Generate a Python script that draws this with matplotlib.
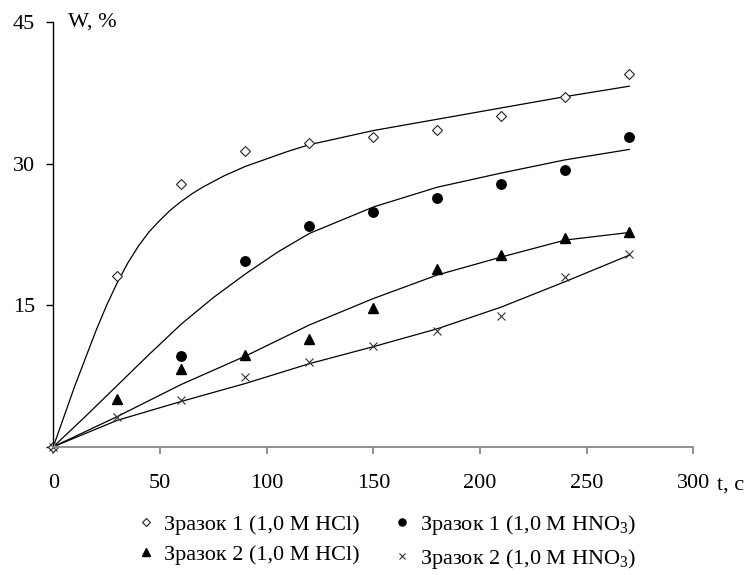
import matplotlib
matplotlib.use("Agg")
import matplotlib.pyplot as plt

plt.rcParams["font.family"] = ["Liberation Serif", "DejaVu Serif"]
plt.rcParams["mathtext.fontset"] = "custom"
plt.rcParams["mathtext.rm"] = "Liberation Serif"
plt.rcParams["mathtext.it"] = "Liberation Serif:italic"

# measured points, W (%) vs t (s)
t_s1_hcl = [0, 30, 60, 90, 120, 150, 180, 210, 240, 270]
w_s1_hcl = [0, 18.1, 27.8, 31.3, 32.2, 32.8, 33.6, 35.0, 37.1, 39.5]

t_s1_hno3 = [60, 90, 120, 150, 180, 210, 240, 270]
w_s1_hno3 = [9.6, 19.7, 23.4, 24.9, 26.4, 27.8, 29.3, 32.8]

t_s2_hcl = [30, 60, 90, 120, 150, 180, 210, 240, 270]
w_s2_hcl = [5.1, 8.2, 9.7, 11.4, 14.7, 18.8, 20.3, 22.1, 22.8]

t_s2_hno3 = [0, 30, 60, 90, 120, 150, 180, 210, 240, 270]
w_s2_hno3 = [0, 3.2, 5.0, 7.4, 9.0, 10.7, 12.3, 13.9, 18.0, 20.4]

# trend curves
t_fit1 = [0, 10, 20, 25, 30, 35, 40, 45, 50, 55, 60, 65, 70, 80, 90, 100, 110, 120,
          150, 180, 210, 240, 270]
w_fit1 = [0, 6.4, 12.3, 15.0, 17.4, 19.5, 21.3, 22.8, 24.0, 25.1, 26.0, 26.8, 27.5,
          28.7, 29.7, 30.5, 31.3, 32.0, 33.5, 34.7, 35.9, 37.1, 38.2]

t_fit2 = [0, 15, 30, 45, 60, 75, 90, 105, 120, 150, 180, 210, 240, 270]
w_fit2 = [0, 3.2, 6.5, 9.8, 13.0, 15.8, 18.3, 20.6, 22.6, 25.4, 27.5, 29.0, 30.4, 31.5]

t_fit3 = [0, 30, 60, 90, 120, 150, 180, 210, 240, 270]
w_fit3 = [0, 3.2, 6.6, 9.6, 12.9, 15.7, 18.2, 20.1, 21.9, 22.7]

t_fit4 = [0, 30, 60, 90, 120, 150, 180, 210, 240, 270]
w_fit4 = [0, 2.8, 4.8, 6.7, 8.8, 10.6, 12.5, 14.8, 17.5, 20.3]

labels = [
    "Зразок 1 (1,0 M HCl)",
    r"Зразок 1 (1,0 M HNO$_\mathrm{3}$)",
    "Зразок 2 (1,0 M HCl)",
    r"Зразок 2 (1,0 M HNO$_\mathrm{3}$)",
]

fig = plt.figure(figsize=(7.49, 5.75), dpi=100)
ax = fig.add_axes([0.0712, 0.2231, 0.8545, 0.7386])

for tt, ww in [(t_fit1, w_fit1), (t_fit2, w_fit2), (t_fit3, w_fit3), (t_fit4, w_fit4)]:
    ax.plot(tt, ww, color="black", linewidth=0.9, clip_on=False)

h1, = ax.plot(t_s1_hcl, w_s1_hcl, linestyle="none", marker="D", markersize=5.2,
              markerfacecolor="white", markeredgecolor="#222222", markeredgewidth=0.8,
              clip_on=False, label=labels[0])
h2, = ax.plot(t_s1_hno3, w_s1_hno3, linestyle="none", marker="o", markersize=6.8,
              color="black", clip_on=False, label=labels[1])
h3, = ax.plot(t_s2_hcl, w_s2_hcl, linestyle="none", marker="^", markersize=7.5,
              color="black", clip_on=False, label=labels[2])
h4, = ax.plot(t_s2_hno3, w_s2_hno3, linestyle="none", marker="x", markersize=6,
              color="#333333", markeredgewidth=0.8, clip_on=False, label=labels[3])

ax.set_xlim(0, 300)
ax.set_ylim(0, 45)
ax.set_xticks([0, 50, 100, 150, 200, 250, 300])
ax.set_yticks([0, 15, 30, 45])
ax.set_yticklabels(["", "15", "30", "45"])

for side in ["top", "right"]:
    ax.spines[side].set_visible(False)
ax.spines["left"].set_color("black")
ax.spines["left"].set_linewidth(1.0)
ax.spines["bottom"].set_color("#888888")
ax.spines["bottom"].set_linewidth(1.3)

ax.tick_params(axis="y", direction="out", length=5, width=1.0, color="black",
               labelsize=16, pad=8)
ax.tick_params(axis="x", direction="out", length=5, width=1.3, color="#888888",
               labelsize=16, pad=15)

fig.text(68 / 749, 1 - 22 / 575, "W, %", fontsize=16, va="center", ha="left")
fig.text(717 / 749, 1 - 485 / 575, "t, с", fontsize=16, va="center", ha="left")

fig.legend(handles=[h1, h3, h2, h4], loc="center", bbox_to_anchor=(0.518, 0.058),
           ncol=2, frameon=False, fontsize=16, markerscale=0.75,
           handlelength=0.6, handletextpad=0.5, columnspacing=1.6,
           labelspacing=0.45, borderpad=0.0)

fig.savefig("out.png", dpi=100)
